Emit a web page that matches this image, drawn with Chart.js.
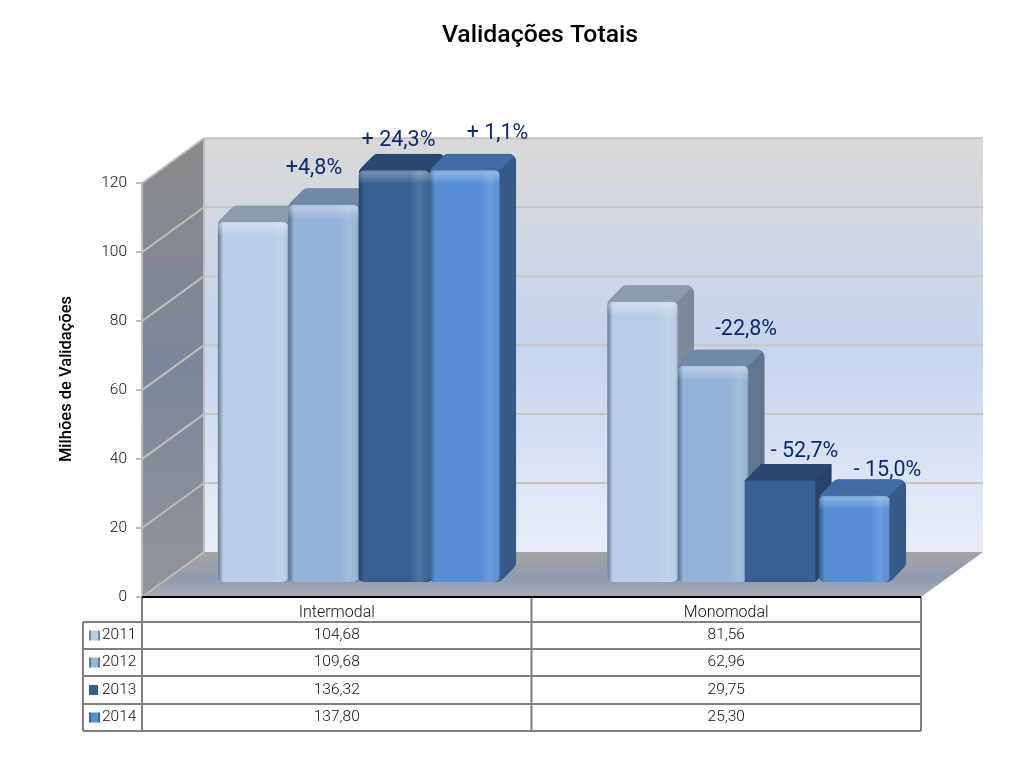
<!DOCTYPE html>
<html><head><meta charset="utf-8">
<style>html,body{margin:0;padding:0;background:#fff}canvas{display:block}</style>
<script src="https://cdn.jsdelivr.net/npm/chart.js@4"></script>
</head><body>
<canvas id="c" width="1014" height="757"></canvas>
<script>
const categories = ['Intermodal', 'Monomodal'];
const seriesNames = ['2011', '2012', '2013', '2014'];
const values2011 = [104.68, 81.56];
const values2012 = [109.68, 62.96];
const values2013 = [136.32, 29.75];
const values2014 = [137.80, 25.30];
const seriesValues = [values2011, values2012, values2013, values2014];
const changeLabels = [[null, null], ['+4,8%', '-22,8%'], ['+ 24,3%', '- 52,7%'], ['+ 1,1%', '- 15,0%']];
const yTicks = [0, 20, 40, 60, 80, 100, 120];

const FONT = 'Roboto, sans-serif';
const front = ['#b9cde6', '#95b3d7', '#366092', '#558ed5'];
const topFace = ['#8c9bae', '#7288a8', '#2c4870', '#3f6ca4'];
const sideFace = ['#7b899b', '#62758f', '#27456c', '#355a88'];
const labelOffset = [[null, null], [[-9.5, -36.5], [33, -36.5]], [[4.5, -30], [21, -29]], [[33, -37], [33.5, -25.5]]];
const barShift = [[0, 0], [0, 0], [0, -3.5], [0, 0.5]];
const isFlat = (d, i) => d === 2 && i === 1;
const DEPTH = 16.5, BX = 22, BY = -14, WX = 62, WY = -45, TOP_INSET = 1;

function roundPoly(ctx, pts, r) {
  const n = pts.length;
  const a = pts[n - 1], b = pts[0];
  ctx.beginPath();
  ctx.moveTo((a[0] + b[0]) / 2, (a[1] + b[1]) / 2);
  for (let i = 0; i < n; i++) {
    const p = pts[i], q = pts[(i + 1) % n];
    ctx.arcTo(p[0], p[1], (p[0] + q[0]) / 2, (p[1] + q[1]) / 2, r);
  }
  ctx.closePath();
}
function vGrad(ctx, y0, y1, stops) {
  const g = ctx.createLinearGradient(0, y0, 0, y1);
  stops.forEach(s => g.addColorStop(s[0], s[1]));
  return g;
}

function drawWalls(chart) {
  const { ctx, chartArea: a, scales: { y } } = chart;
  const L = a.left, R = a.right, T = a.top, B = a.bottom;
  ctx.save();
  ctx.fillStyle = vGrad(ctx, T + WY, B + WY, [[0, '#d9d9d9'], [0.5, '#c6d4ee'], [1, '#e8edf8']]);
  ctx.fillRect(L + WX, T + WY, R - L, B - T);
  ctx.beginPath();
  ctx.moveTo(L, T); ctx.lineTo(L + WX, T + WY); ctx.lineTo(L + WX, B + WY); ctx.lineTo(L, B); ctx.closePath();
  ctx.fillStyle = vGrad(ctx, T + WY, B, [[0, '#8a8a8a'], [0.5, '#7c8699'], [1, '#929499']]);
  ctx.fill();
  ctx.beginPath();
  ctx.moveTo(L, B); ctx.lineTo(L + WX, B + WY); ctx.lineTo(R + WX, B + WY); ctx.lineTo(R, B); ctx.closePath();
  ctx.fillStyle = vGrad(ctx, B + WY, B, [[0, '#a4a4a4'], [0.6, '#919bb0'], [1, '#a9abb5']]);
  ctx.fill();
  ctx.lineWidth = 2;
  yTicks.forEach(v => {
    const p = y.getPixelForValue(v);
    ctx.strokeStyle = '#bcbcb8';
    ctx.beginPath(); ctx.moveTo(L, p); ctx.lineTo(L + WX, p + WY); ctx.stroke();
    if (v > 0) {
      ctx.strokeStyle = '#c8c5bc';
      ctx.beginPath(); ctx.moveTo(L + WX, p + WY); ctx.lineTo(R + WX, p + WY); ctx.stroke();
    }
  });
  ctx.strokeStyle = '#bdbdbd';
  ctx.beginPath(); ctx.moveTo(L + WX, T + WY); ctx.lineTo(L + WX, B + WY); ctx.stroke();
  ctx.beginPath(); ctx.moveTo(L, T); ctx.lineTo(L, B); ctx.stroke();
  ctx.restore();
}

function drawBars(chart) {
  const { ctx, chartArea: a } = chart;
  seriesNames.forEach((name, d) => {
    const meta = chart.getDatasetMeta(d);
    const saved = meta.data.map(el => [el.x, el.y]);
    meta.data.forEach((el, i) => {
      el.y = Math.max(el.y, a.top + TOP_INSET);
      el.x = el.x + barShift[d][i];
    });
    ctx.save();
    ctx.translate(BX, BY);
    meta.data.forEach((el, i) => {
      const x0 = el.x - el.width / 2, x1 = el.x + el.width / 2, yt = el.y, yb = el.base;
      const r = isFlat(d, i) ? 0.01 : 8;
      const sil = [[x0, yt], [x0 + DEPTH, yt - DEPTH], [x1 + DEPTH, yt - DEPTH], [x1 + DEPTH, yb - DEPTH], [x1, yb], [x0, yb]];
      ctx.save();
      roundPoly(ctx, sil, r);
      ctx.clip();
      ctx.fillStyle = sideFace[d];
      ctx.fillRect(x0, yt - DEPTH, x1 - x0 + DEPTH, yb - yt + DEPTH);
      ctx.beginPath();
      ctx.moveTo(x0, yt); ctx.lineTo(x0 + DEPTH, yt - DEPTH); ctx.lineTo(x1 + DEPTH, yt - DEPTH); ctx.lineTo(x1, yt); ctx.closePath();
      ctx.fillStyle = topFace[d];
      ctx.fill();
      ctx.restore();
    });
    meta.controller.draw();
    meta.data.forEach((el, i) => {
      if (isFlat(d, i)) return;
      const x0 = el.x - el.width / 2, w = el.width, yt = el.y, yb = el.base;
      ctx.save();
      ctx.beginPath();
      ctx.roundRect(x0, yt, w, yb - yt, 5);
      ctx.clip();
      const g = ctx.createLinearGradient(x0, 0, x0 + w, 0);
      g.addColorStop(0, 'rgba(30,45,70,0.55)');
      g.addColorStop(0.08, 'rgba(30,45,70,0)');
      g.addColorStop(0.72, 'rgba(255,255,255,0)');
      g.addColorStop(0.86, 'rgba(255,255,255,0.12)');
      g.addColorStop(0.95, 'rgba(255,255,255,0.03)');
      g.addColorStop(1, 'rgba(30,45,70,0.25)');
      ctx.fillStyle = g;
      ctx.fillRect(x0, yt, w, yb - yt);
      ctx.fillStyle = vGrad(ctx, yt, yt + 14, [[0, 'rgba(255,255,255,0.2)'], [0.2, 'rgba(255,255,255,0.3)'], [1, 'rgba(255,255,255,0)']]);
      ctx.fillRect(x0, yt, w, 14);
      ctx.restore();
    });
    ctx.restore();
    meta.data.forEach((el, i) => { el.x = saved[i][0]; el.y = saved[i][1]; });
  });
}

function drawTexts(chart) {
  const { ctx, chartArea: a } = chart;
  ctx.save();
  ctx.fillStyle = '#0c2a6e';
  ctx.font = '21.5px ' + FONT;
  ctx.textAlign = 'center';
  ctx.textBaseline = 'middle';
  changeLabels.forEach((row, d) => row.forEach((txt, i) => {
    if (!txt) return;
    const el = chart.getDatasetMeta(d).data[i];
    const off = labelOffset[d][i];
    const top = Math.max(el.y, a.top + TOP_INSET) + BY;
    ctx.fillText(txt, el.x + BX + off[0], top + off[1]);
  }));
  ctx.save();
  ctx.translate(67, 379);
  ctx.rotate(-Math.PI / 2);
  ctx.fillStyle = '#000';
  ctx.font = '500 16.5px ' + FONT;
  ctx.fillText('Milhões de Validações', 0, 0);
  ctx.restore();
  const colL = 83, rows = [622, 649, 676, 704, 731];
  const mid = (a.left + a.right) / 2;
  ctx.strokeStyle = '#808080';
  ctx.lineWidth = 2;
  ctx.beginPath();
  rows.forEach(r => { ctx.moveTo(colL, r); ctx.lineTo(a.right, r); });
  [a.left, mid, a.right].forEach(x => { ctx.moveTo(x, a.bottom); ctx.lineTo(x, rows[4]); });
  ctx.moveTo(colL, rows[0]); ctx.lineTo(colL, rows[4]);
  ctx.stroke();
  ctx.strokeStyle = '#000';
  ctx.beginPath(); ctx.moveTo(a.left, a.bottom); ctx.lineTo(a.right, a.bottom); ctx.stroke();
  ctx.font = '300 15.5px ' + FONT;
  const xs = chart.scales.x;
  seriesNames.forEach((name, d) => {
    const yc = (rows[d] + rows[d + 1]) / 2;
    const keyW = d === 2 ? 9 : 11;
    ctx.fillStyle = front[d];
    ctx.fillRect(89, yc - 5, keyW, 10);
    if (d !== 2) {
      ctx.fillStyle = 'rgba(40,50,70,0.45)';
      ctx.fillRect(89, yc - 5, 2, 10);
      ctx.fillRect(98, yc - 5, 2, 10);
    }
    ctx.fillStyle = '#111';
    ctx.textAlign = 'left';
    ctx.fillText(name, 102, yc);
    ctx.textAlign = 'center';
    seriesValues[d].forEach((v, i) => {
      ctx.fillText(v.toFixed(2).replace('.', ','), xs.getPixelForTick(i), yc);
    });
  });
  ctx.restore();
}

const scene = {
  id: 'scene',
  beforeDatasetDraw() { return false; },   // bars are painted left to right below, so each covers its left neighbour
  afterDatasetsDraw(chart) {
    drawWalls(chart);
    drawBars(chart);
    drawTexts(chart);
  }
};

new Chart(document.getElementById('c'), {
  type: 'bar',
  data: {
    labels: categories,
    datasets: seriesNames.map((name, d) => ({
      label: name,
      data: seriesValues[d],
      backgroundColor: front[d],
      borderRadius: c => isFlat(c.datasetIndex, c.dataIndex) ? 0 : 5,
      borderSkipped: false,
      categoryPercentage: 0.724,
      barPercentage: 1
    }))
  },
  plugins: [scene],
  options: {
    responsive: false,
    devicePixelRatio: 1,
    animation: false,
    events: [],
    layout: { padding: { left: 66, right: 0, top: 10, bottom: 0 } },
    plugins: {
      legend: { display: false },
      tooltip: { enabled: false },
      title: {
        display: true,
        text: 'Validações Totais',
        color: '#000',
        font: { family: FONT, size: 24.8, weight: '500' },
        padding: { top: 11, bottom: 132.5 }
      }
    },
    scales: {
      x: {
        border: { display: false },
        grid: { display: false, drawTicks: false },
        ticks: { color: '#111', font: { family: FONT, size: 16, weight: '300' }, padding: 6, maxRotation: 0 },
        afterFit(s) { s.height = 160; }
      },
      y: {
        min: 0, max: 120,
        afterBuildTicks(s) { s.ticks = yTicks.map(v => ({ value: v })); },
        border: { display: false },
        grid: { drawOnChartArea: false, drawTicks: true, tickLength: 6, color: '#bdbdbd', lineWidth: 2 },
        ticks: { color: '#111', font: { family: FONT, size: 15.5, weight: '300' }, padding: 9 },
        afterFit(s) { s.width = 76; }
      },
      spacer: {
        position: 'right',
        display: true,
        border: { display: false },
        grid: { display: false },
        ticks: { display: false },
        afterFit(s) { s.width = 93; }
      }
    }
  }
});
</script>
</body></html>
